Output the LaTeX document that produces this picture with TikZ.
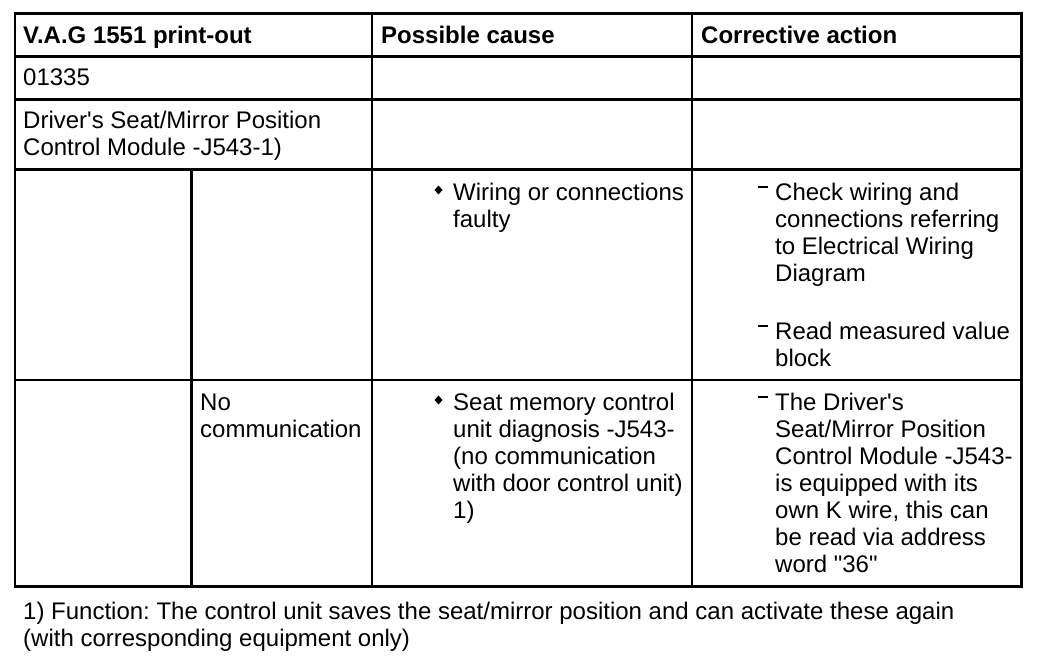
\documentclass[tikz,border=0pt]{standalone}
\usepackage{fontspec}
\newfontfamily\tabfont{Liberation Sans}
\frenchspacing

\tikzset{
	cell/.style={anchor=base west, inner sep=0pt, align=left, font=\tabfont\fontsize{24}{27}\selectfont},
	head/.style={cell, font=\tabfont\fontsize{24}{27}\selectfont\bfseries},
	rule/.style={line width=2.6pt},
}

\begin{document}
\begin{tikzpicture}[x=1pt,y=-1pt]
	\useasboundingbox (0,0) rectangle (1056,662);

	% table rules
	\draw[rule] (15,13.5) rectangle (1021.5,586.5);
	\foreach \y in {56.5,99.5,169.5,380}
		\draw[rule] (15,\y) -- (1021.5,\y);
	\foreach \x in {372,692}
		\draw[rule] (\x,13.5) -- (\x,586.5);
	\draw[rule] (191.5,169.5) -- (191.5,586.5);

	% header
	\node[head] (printout) at (23,43) {V.A.G 1551 print-out};
	\node[head] (cause) at (381,43) {Possible cause};
	\node[head] (action) at (701,43) {Corrective action};

	% rows (base of a node = base of its last line)
	\node[cell] (code) at (23,85) {01335};
	\node[cell] (module) at (23,128+27) {Driver's Seat/Mirror Position\\Control Module -J543-1)};

	\node[cell] (wiring) at (453,200+27) {Wiring or connections\\faulty};
	\node[cell] (check) at (775,200+3*27) {Check wiring and\\connections referring\\to Electrical Wiring\\Diagram};
	\node[cell] (read) at (775,339+27) {Read measured value\\block};

	\node[cell] (nocomm) at (200,410+27) {No\\communication};
	\node[cell] (memory) at (453,410+4*27) {Seat memory control\\unit diagnosis -J543-\\(no communication\\with door control unit)\\1)};
	\node[cell] (kwire) at (775,410+6*27) {The Driver's\\Seat/Mirror Position\\Control Module -J543-\\is equipped with its\\own K wire, this can\\be read via address\\word "36"};

	% bullets and dashes
	\foreach \y in {200,410}
		\fill (438.5,\y-10) ++(-4,0) -- ++(4,4.5) -- ++(4,-4.5) -- ++(-4,-4.5) -- cycle;
	\foreach \y in {200,339,410}
		\draw[line width=1.8pt] (758,\y-13) -- (768,\y-13);

	% footnote
	\node[cell] (note) at (23,619+27) {1) Function: The control unit saves the seat/mirror position and can activate these again\\(with corresponding equipment only)};
\end{tikzpicture}
\end{document}
